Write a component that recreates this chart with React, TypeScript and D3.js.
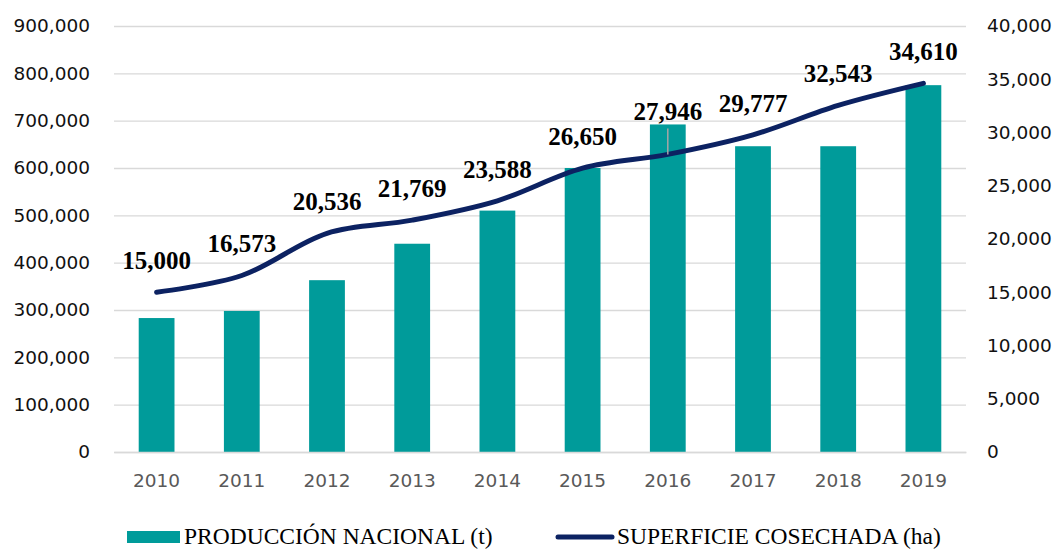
import React, { useEffect, useRef } from "react";
import * as d3 from "d3";

const years = ["2010", "2011", "2012", "2013", "2014", "2015", "2016", "2017", "2018", "2019"];
const produccion = [283000, 298000, 363000, 440000, 510000, 600000, 692000, 646000, 646000, 775000];
const superficie = [15000, 16573, 20536, 21769, 23588, 26650, 27946, 29777, 32543, 34610];
const leftTicks = [0, 100000, 200000, 300000, 400000, 500000, 600000, 700000, 800000, 900000];
const rightTicks = [0, 5000, 10000, 15000, 20000, 25000, 30000, 35000, 40000];

const width = 1057;
const height = 550;
const margin = { top: 26, right: 91, bottom: 98, left: 114 };

const barColor = "#009B9A";
const lineColor = "#0C2262";

export default function App() {
  const svgRef = useRef<SVGSVGElement>(null);

  useEffect(() => {
    const root = d3.select(svgRef.current);
    root.selectAll("*").remove();

    const plotWidth = width - margin.left - margin.right;
    const plotHeight = height - margin.top - margin.bottom;

    const svg = root.append("g").attr("transform", `translate(${margin.left},${margin.top})`);

    const x = d3.scaleBand().domain(years).range([0, plotWidth]).paddingInner(0.58).paddingOuter(0.29);
    const yLeft = d3.scaleLinear().domain([0, 900000]).range([plotHeight, 0]);
    const yRight = d3.scaleLinear().domain([0, 40000]).range([plotHeight, 0]);
    const fmt = d3.format(",");

    // gridlines
    svg
      .append("g")
      .selectAll("line")
      .data(leftTicks)
      .enter()
      .append("line")
      .attr("x1", 0)
      .attr("x2", plotWidth)
      .attr("y1", (d) => yLeft(d) + 0.5)
      .attr("y2", (d) => yLeft(d) + 0.5)
      .attr("stroke", "#d9d9d9")
      .attr("stroke-width", 1.3);

    // left axis
    const left = svg.append("g").call(d3.axisLeft(yLeft).tickValues(leftTicks).tickFormat((d) => fmt(d as number)).tickSize(0).tickPadding(24));
    left.select(".domain").remove();
    left.selectAll("text").attr("font-family", "DejaVu Sans").attr("font-size", 18.5).attr("fill", "#111");

    // right axis
    const right = svg
      .append("g")
      .attr("transform", `translate(${plotWidth},0)`)
      .call(d3.axisRight(yRight).tickValues(rightTicks).tickFormat((d) => fmt(d as number)).tickSize(0).tickPadding(21));
    right.select(".domain").remove();
    right.selectAll("text").attr("font-family", "DejaVu Sans").attr("font-size", 18.5).attr("fill", "#111");

    // bars
    svg
      .selectAll("rect.bar")
      .data(produccion)
      .enter()
      .append("rect")
      .attr("class", "bar")
      .attr("fill", barColor)
      .attr("x", (d, i) => x(years[i]) as number)
      .attr("width", x.bandwidth())
      .attr("y", (d) => yLeft(d))
      .attr("height", (d) => plotHeight - yLeft(d));

    // bottom axis
    const bottom = svg
      .append("g")
      .attr("transform", `translate(0,${plotHeight})`)
      .call(d3.axisBottom(x).tickSize(0).tickPadding(22));
    bottom.select(".domain").attr("stroke", "#d9d9d9").attr("stroke-width", 1.3);
    bottom.selectAll("text").attr("font-family", "DejaVu Sans").attr("font-size", 18.5).attr("fill", "#595959");

    const cx = (i: number) => (x(years[i]) as number) + x.bandwidth() / 2;

    // line (smoothed like the spreadsheet original)
    const line = d3
      .line<number>()
      .x((d, i) => cx(i))
      .y((d) => yRight(d))
      .curve(d3.curveCatmullRom.alpha(0.5));

    svg
      .append("path")
      .datum(superficie)
      .attr("d", line)
      .attr("fill", "none")
      .attr("stroke", lineColor)
      .attr("stroke-width", 5)
      .attr("stroke-linecap", "round");

    // leader line for 2016 label
    const leaderIdx = 6;
    svg
      .append("line")
      .attr("x1", cx(leaderIdx))
      .attr("x2", cx(leaderIdx))
      .attr("y1", yRight(superficie[leaderIdx]) - 26)
      .attr("y2", yRight(superficie[leaderIdx]))
      .attr("stroke", "#a6a6a6")
      .attr("stroke-width", 1.5);

    // data labels
    svg
      .selectAll("text.lbl")
      .data(superficie)
      .enter()
      .append("text")
      .attr("class", "lbl")
      .attr("x", (d, i) => cx(i))
      .attr("y", (d, i) => yRight(d) - (i === leaderIdx ? 34 : 23))
      .attr("text-anchor", "middle")
      .attr("font-family", "Liberation Serif")
      .attr("font-weight", "bold")
      .attr("font-size", 25)
      .attr("fill", "#000")
      .text((d) => fmt(d));

    // legend
    const legend = root.append("g");
    legend.append("rect").attr("x", 127).attr("y", 531).attr("width", 53).attr("height", 12).attr("fill", barColor);
    legend
      .append("text")
      .attr("x", 184)
      .attr("y", 544)
      .attr("font-family", "Liberation Serif")
      .attr("font-size", 23.5)
      .attr("fill", "#000")
      .text("PRODUCCIÓN NACIONAL (t)");
    legend
      .append("line")
      .attr("x1", 558)
      .attr("x2", 612)
      .attr("y1", 537)
      .attr("y2", 537)
      .attr("stroke", lineColor)
      .attr("stroke-width", 5)
      .attr("stroke-linecap", "round");
    legend
      .append("text")
      .attr("x", 617)
      .attr("y", 544)
      .attr("font-family", "Liberation Serif")
      .attr("font-size", 23.5)
      .attr("fill", "#000")
      .text("SUPERFICIE COSECHADA (ha)");
  }, []);

  return (
    <div style={{ position: "absolute", left: 0, top: 0 }}>
      <svg ref={svgRef} width={width} height={height} style={{ display: "block", background: "#fff" }} />
    </div>
  );
}
